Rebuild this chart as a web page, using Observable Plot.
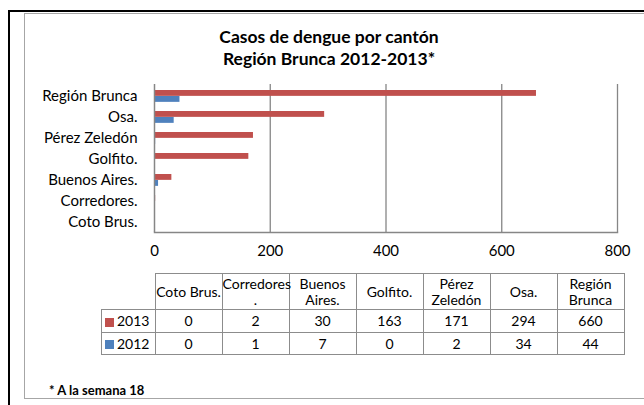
<!DOCTYPE html>
<html>
<head>
<meta charset="utf-8">
<script src="https://cdn.jsdelivr.net/npm/d3@7"></script>
<script src="https://cdn.jsdelivr.net/npm/@observablehq/plot@0.6"></script>
<style>
  html, body { margin: 0; padding: 0; background: #fff; }
  #wrap { position: relative; width: 644px; height: 405px; overflow: hidden; font-family: Lato, "Open Sans", sans-serif; color: #000; }
  #blackTop { position: absolute; left: 8px; top: 10px; width: 640px; height: 2px; background: #000; }
  #blackLeft { position: absolute; left: 8px; top: 10px; width: 2px; height: 400px; background: #000; }
  #inner { position: absolute; left: 24px; top: 13px; width: 640px; height: 384px; border: 1.5px solid #a6a6a6; }
  #title { position: absolute; left: 24px; width: 610px; top: 26px; text-align: center; font-weight: bold; font-size: 17.5px; line-height: 22px; }
  #chart { position: absolute; left: 0; top: 0; }
  #tbl { position: absolute; left: 101px; top: 273px; border-collapse: collapse; table-layout: fixed; width: 515px; font-size: 14px; }
  #tbl td { border: 1px solid #8c8c8c; text-align: center; padding: 0; line-height: 16px; white-space: nowrap; overflow: visible; }
  #tbl td.blank { border-top: none; border-left: none; }
  #tbl td.leg { text-align: left; padding-left: 3px; }
  .sw { display: inline-block; width: 9px; height: 9px; margin-right: 3px; vertical-align: -0.5px; }
  #foot { position: absolute; left: 49px; top: 382px; font-weight: bold; font-size: 13px; }
</style>
</head>
<body>
<div id="wrap">
  <div id="blackTop"></div>
  <div id="blackLeft"></div>
  <div id="inner"></div>
  <div id="chart"></div>
  <div id="title">Casos de dengue por cantón<br>Región Brunca 2012-2013*</div>
  <table id="tbl"></table>
  <div id="foot">* A la semana 18</div>
</div>
<script>
const cantons = ["Región Brunca", "Osa.", "Pérez Zeledón", "Golfito.", "Buenos Aires.", "Corredores.", "Coto Brus."];
const cases2013 = [660, 294, 171, 163, 30, 2, 0];
const cases2012 = [44, 34, 2, 0, 7, 1, 0];
const xTicks = [0, 200, 400, 600, 800];
const tableHeaders = ["Coto Brus.", "Corredores<br>.", "Buenos<br>Aires.", "Golfito.", "Pérez<br>Zeledón", "Osa.", "Región<br>Brunca"];
const seriesNames = ["2013", "2012"];
const seriesColors = ["#C0504D", "#4F81BD"];

const data2013 = cantons.map((c, i) => ({canton: c, value: cases2013[i]}));
const data2012 = cantons.map((c, i) => ({canton: c, value: cases2012[i]}));

const gridColor = "#868686";
const chart = Plot.plot({
  width: 644,
  height: 262,
  marginLeft: 154,
  marginRight: 27,
  marginTop: 84,
  marginBottom: 30,
  style: {background: "transparent", fontFamily: "Lato, 'Open Sans', sans-serif", fontSize: "15px", color: "#000"},
  x: {domain: [0, 800], ticks: xTicks, tickSize: 0, tickPadding: 13, tickFormat: d => String(d), label: null},
  y: {domain: cantons, padding: 0, tickSize: 0, tickPadding: 17, label: null},
  marks: [
    Plot.ruleX(xTicks.slice(1), {stroke: gridColor, strokeWidth: 1.3}),
    Plot.barX(data2013, {x: "value", y: "canton", fill: seriesColors[0], insetTop: 5, insetBottom: 10.14}),
    Plot.barX(data2012, {x: "value", y: "canton", fill: seriesColors[1], insetTop: 11, insetBottom: 4.14}),
    Plot.ruleX([0], {stroke: gridColor, strokeWidth: 1.5}),
    Plot.frame({anchor: "bottom", stroke: gridColor, strokeWidth: 1.5})
  ]
});
document.getElementById("chart").appendChild(chart);

// data table
const revIdx = cantons.map((_, i) => cantons.length - 1 - i);
const tbl = document.getElementById("tbl");
let html = '<tr style="height:36px"><td class="blank" style="width:53px"></td>' +
  tableHeaders.map(h => `<td style="width:66px">${h}</td>`).join("") + "</tr>";
const rows = [cases2013, cases2012];
rows.forEach((vals, r) => {
  html += `<tr style="height:${r === 0 ? 23 : 22}px"><td class="leg"><span class="sw" style="background:${seriesColors[r]}"></span>${seriesNames[r]}</td>` +
    revIdx.map(i => `<td>${vals[i]}</td>`).join("") + "</tr>";
});
tbl.innerHTML = html;
</script>
</body>
</html>
